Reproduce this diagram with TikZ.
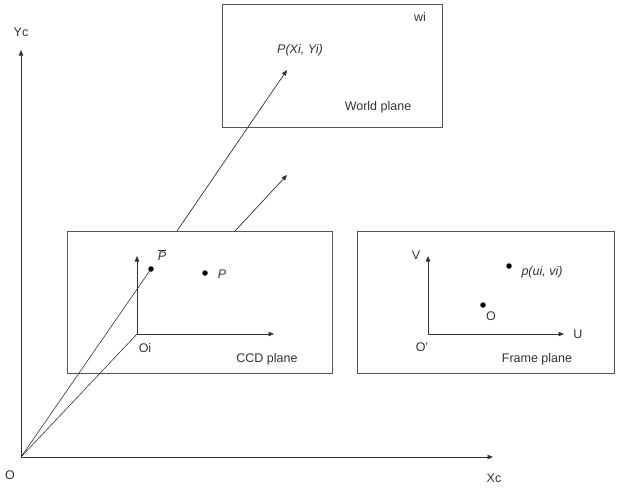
\documentclass[tikz,border=0pt]{standalone}
\usepackage{fontspec}
\setmainfont{Liberation Sans}
\usetikzlibrary{arrows.meta, positioning}
\definecolor{Ink}{HTML}{333333}
\definecolor{Edge}{HTML}{555555}

\begin{document}
\begin{tikzpicture}[x=1pt, y=-1pt,
    plane/.style={rectangle, draw=Edge, line width=0.8pt, inner sep=0pt},
    axis/.style={-{Triangle[length=5.5pt, width=4.5pt]}, line width=0.7pt, color=Ink},
    ray/.style={line width=0.6pt, color=Ink},
    dot/.style={circle, fill=black, inner sep=0pt, minimum size=5.5pt},
    lbl/.style={font=\fontsize{12.5}{14}\selectfont, text=Ink, inner sep=1pt},
    ilbl/.style={lbl, font=\fontsize{12.5}{14}\selectfont\itshape}
]
    \useasboundingbox (0,0) rectangle (617,487);

    % Camera axes
    \coordinate (O) at (21,457);
    \coordinate (yctip) at (21,50);
    \coordinate (xctip) at (493,457);
    \node[lbl] (olbl) at (10,475) {O};
    \node[lbl] (yclbl) at (21,32) {Yc};
    \node[lbl] (xclbl) at (494,478) {Xc};

    % Planes
    \node[plane, minimum width=220pt, minimum height=123pt] (world) at (332,65.5) {};
    \node[plane, minimum width=265pt, minimum height=142pt] (ccd) at (199.5,302) {};
    \node[plane, minimum width=257pt, minimum height=142pt] (frame) at (485.5,302) {};

    % World plane
    \node[lbl] (wi) at (420,17) {wi};
    \node[ilbl] (pw) at (300,50) {P(Xi, Yi)};
    \node[lbl] (worldlbl) at (378,107) {World plane};
    \coordinate (basea) at (177,231);
    \coordinate (tipa) at (287,70);
    \coordinate (baseb) at (235,231);
    \coordinate (tipb) at (287,175);

    % CCD plane
    \coordinate (Oi) at (137,334);
    \coordinate (vtip) at (137,256);
    \coordinate (utip) at (274,334);
    \node[dot] (pbar) at (151,269) {};
    \node[dot] (pc) at (205,273) {};
    \node[lbl] (oilbl) at (145,348) {Oi};
    \node[ilbl] (pbarlbl) at (162,255) {$\overline{\mbox{\itshape P}}$};
    \node[ilbl] (pclbl) at (222,274) {P};
    \node[lbl] (ccdlbl) at (267,359) {CCD plane};

    % Frame plane
    \coordinate (Of) at (428,334);
    \coordinate (Vtip) at (428,256);
    \coordinate (Utip) at (564,334);
    \node[dot] (pf) at (509,266) {};
    \node[dot] (of) at (483,305) {};
    \node[lbl] (vlbl) at (416,255) {V};
    \node[lbl] (ulbl) at (578,334) {U};
    \node[lbl] (oflbl) at (422,347) {O'};
    \node[ilbl] (pflbl) at (542,272) {p(ui, vi)};
    \node[lbl] (oflbl2) at (491,316) {O};
    \node[lbl] (framelbl) at (537,359) {Frame plane};

    % Connections
    \draw[axis] (O) -- (yctip);
    \draw[axis] (O) -- (xctip);
    \draw[axis] (Oi) -- (vtip);
    \draw[axis] (Oi) -- (utip);
    \draw[axis] (Of) -- (Vtip);
    \draw[axis] (Of) -- (Utip);
    \draw[ray] (O) -- (pbar.center);
    \draw[ray] (O) -- (Oi);
    \draw[axis] (basea) -- (tipa);
    \draw[axis] (baseb) -- (tipb);
\end{tikzpicture}
\end{document}
